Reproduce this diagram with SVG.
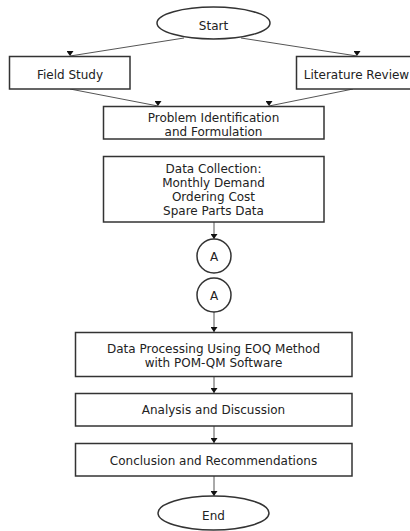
<svg xmlns="http://www.w3.org/2000/svg" width="410" height="531" viewBox="0 0 410 531">
<style>
.n{fill:#fff;stroke:#333;stroke-width:1.5}
.t{font-family:"DejaVu Sans",sans-serif;font-size:12px;fill:#222;text-anchor:middle}
.c{stroke:#555;stroke-width:1;fill:none;marker-end:url(#ah)}
</style>
<defs>
<marker id="ah" markerUnits="userSpaceOnUse" markerWidth="6" markerHeight="7" refX="5" refY="3.5" orient="90" viewBox="0 0 6 7">
<path d="M0,0 L5,3.5 L0,7 Z" fill="#111"/>
</marker>
</defs>
<rect width="410" height="531" fill="#fff"/>
<g id="connectors">
<line class="c" x1="184" y1="38" x2="70" y2="56"/>
<line class="c" x1="241" y1="38" x2="357" y2="56"/>
<line class="c" x1="70" y1="89" x2="158" y2="106"/>
<line class="c" x1="353" y1="89" x2="269" y2="106"/>
<line class="c" x1="214" y1="222" x2="214" y2="239"/>
<line class="c" x1="214" y1="312" x2="214" y2="332"/>
<line class="c" x1="214" y1="376" x2="214" y2="393"/>
<line class="c" x1="214" y1="426" x2="214" y2="443"/>
<line class="c" x1="214" y1="476" x2="214" y2="496"/>
</g>
<g id="start"><ellipse class="n" cx="213.5" cy="23" rx="56.5" ry="16"/><text class="t" x="213.5" y="30">Start</text></g>
<g id="field"><rect class="n" x="9.5" y="56.5" width="120.5" height="32.5"/><text class="t" x="70" y="79">Field Study</text></g>
<g id="literature"><rect class="n" x="296.5" y="56.5" width="116" height="32.5"/><text class="t" x="356.5" y="79">Literature Review</text></g>
<g id="problem"><rect class="n" x="103.5" y="106.5" width="220.5" height="32.5"/><text class="t" x="213.5" y="122">Problem Identification</text><text class="t" x="213.5" y="136">and Formulation</text></g>
<g id="datacollection"><rect class="n" x="103.5" y="156.5" width="220.5" height="65.5"/><text class="t" x="213.5" y="173">Data Collection:</text><text class="t" x="213.5" y="187">Monthly Demand</text><text class="t" x="213.5" y="201">Ordering Cost</text><text class="t" x="213.5" y="215">Spare Parts Data</text></g>
<g id="a1"><circle class="n" cx="214" cy="256" r="17"/><text class="t" x="214" y="260.5">A</text></g>
<g id="a2"><circle class="n" cx="214" cy="295" r="17"/><text class="t" x="214" y="299.5">A</text></g>
<g id="processing"><rect class="n" x="75.5" y="332.5" width="276.5" height="44"/><text class="t" x="213.5" y="353">Data Processing Using EOQ Method</text><text class="t" x="213.5" y="367">with POM-QM Software</text></g>
<g id="analysis"><rect class="n" x="75.5" y="393.5" width="276.5" height="32.5"/><text class="t" x="213.5" y="414">Analysis and Discussion</text></g>
<g id="conclusion"><rect class="n" x="75.5" y="443.5" width="276.5" height="32.5"/><text class="t" x="213.5" y="465">Conclusion and Recommendations</text></g>
<g id="end"><ellipse class="n" cx="213.5" cy="513" rx="55.5" ry="17"/><text class="t" x="213.5" y="520">End</text></g>
</svg>
